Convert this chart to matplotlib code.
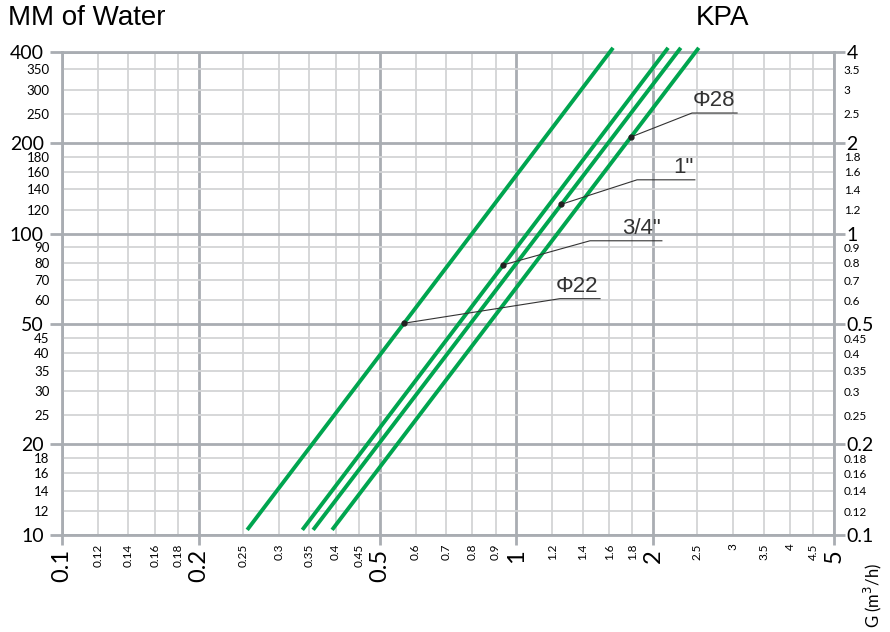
import numpy as np
import matplotlib
matplotlib.use('Agg')
import matplotlib.pyplot as plt

# pressure drop (mm of water) at the two ends of each line
pressure_ends = [10.4, 413]
# flow G (m3/h) at those ends, per pipe size
series = {
    'Φ22': [0.2556, 1.632],
    '3/4"': [0.338, 2.157],
    '1"': [0.357, 2.30],
    'Φ28': [0.393, 2.52],
}
# where each label's dot sits (pressure, mm of water)
dot_pressure = {'Φ22': 50.4, '3/4"': 78.7, '1"': 125, 'Φ28': 209}
# leader line corner and end (flow, pressure)
leader = {
    'Φ22': [(1.247, 60.8), (1.528, 60.8)],
    '3/4"': [(1.452, 94.6), (2.09, 94.6)],
    '1"': [(1.843, 150.7), (2.47, 150.7)],
    'Φ28': [(2.435, 251), (3.06, 251)],
}

x_major = [0.1, 0.2, 0.5, 1, 2, 5]
x_minor = [0.12, 0.14, 0.16, 0.18, 0.25, 0.3, 0.35, 0.4, 0.45, 0.6, 0.7,
           0.8, 0.9, 1.2, 1.4, 1.6, 1.8, 2.5, 3, 3.5, 4, 4.5]
y_major = [10, 20, 50, 100, 200, 400]
y_minor = [12, 14, 16, 18, 25, 30, 35, 40, 45, 60, 70, 80, 90, 120, 140,
           160, 180, 250, 300, 350]

def fmt(v):
    return ('%g' % v)

green = '#00a54f'
major_c = '#a9adb2'
minor_c = '#d3d4d6'
tick_font = 'Lato'

fig = plt.figure(figsize=(8.9, 6.32), dpi=100)
ax = fig.add_axes([62 / 890, 1 - 535 / 632, (834 - 62) / 890, (535 - 52) / 632])
ax.set_xscale('log')
ax.set_yscale('log')
ax.set_xlim(0.1, 5)
ax.set_ylim(10, 400)

ax.set_xticks(x_major, [fmt(v) for v in x_major])
ax.set_xticks(x_minor, [fmt(v) for v in x_minor], minor=True)
ax.set_yticks(y_major, [fmt(v) for v in y_major])
ax.set_yticks(y_minor, [fmt(v) for v in y_minor], minor=True)

ax.grid(which='major', color=major_c, lw=2.0, zorder=0)
ax.grid(which='minor', color=minor_c, lw=1.3, zorder=0)
for s in ax.spines.values():
    s.set_color(major_c)
    s.set_linewidth(2.0)

ax.tick_params(axis='y', which='major', length=9, width=2, color=major_c,
               labelsize=14, pad=4)
ax.tick_params(axis='y', which='minor', length=0, labelsize=9.5, pad=9)
ax.tick_params(axis='x', which='major', length=7, width=2, color=major_c,
               labelsize=17, pad=3, labelrotation=90)
ax.tick_params(axis='x', which='minor', length=0, labelsize=8.5, pad=6,
               labelrotation=90)
for lab in ax.get_xticklabels() + ax.get_xticklabels(minor=True) + \
        ax.get_yticklabels() + ax.get_yticklabels(minor=True):
    lab.set_fontfamily(tick_font)

ax2 = ax.twinx()
ax2.set_yscale('log')
ax2.set_ylim(0.1, 4)
y2_major = [v / 100 for v in y_major]
y2_minor = [v / 100 for v in y_minor]
ax2.set_yticks(y2_major, [fmt(v) for v in y2_major])
ax2.set_yticks(y2_minor, [fmt(v) for v in y2_minor], minor=True)
ax2.tick_params(axis='y', which='major', length=8, width=2, color=major_c,
                labelsize=14, pad=1)
ax2.tick_params(axis='y', which='minor', length=0, labelsize=8.5, pad=7)
for lab in ax2.get_yticklabels() + ax2.get_yticklabels(minor=True):
    lab.set_fontfamily(tick_font)
for s in ax2.spines.values():
    s.set_visible(False)

for name, flows in series.items():
    ax.plot(flows, pressure_ends, color=green, lw=2.8, clip_on=False,
            solid_capstyle='butt', zorder=3)
    # dot on the line at the given pressure (line is straight on log-log)
    lx, ly = np.log10(flows), np.log10(pressure_ends)
    px = 10 ** np.interp(np.log10(dot_pressure[name]), ly, lx)
    (cx, cy), (ex, ey) = leader[name]
    ax.plot([px, cx, ex], [dot_pressure[name], cy, ey], color='#333333',
            lw=0.8, zorder=4)
    ax.plot(px, dot_pressure[name], 'o', color='#222222', ms=3.5, zorder=5)
    ax.annotate(name, (ex, ey), xytext=(-1, 1.5), textcoords='offset points',
                ha='right', va='bottom', fontsize=16, color='#333333',
                family=['Liberation Sans', 'DejaVu Sans'])

fig.text(8 / 890, 1 - 18 / 632, 'MM of Water', fontsize=20,
         family='Liberation Sans', ha='left', va='center')
fig.text(722 / 890, 1 - 18 / 632, 'KPA', fontsize=20,
         family='Liberation Sans', ha='center', va='center')
fig.text(873 / 890, 1 - 595 / 632, 'G (m$^3$/h)', fontsize=12,
         family=tick_font, rotation=90, ha='center', va='center')

fig.savefig('out.png', dpi=100)
